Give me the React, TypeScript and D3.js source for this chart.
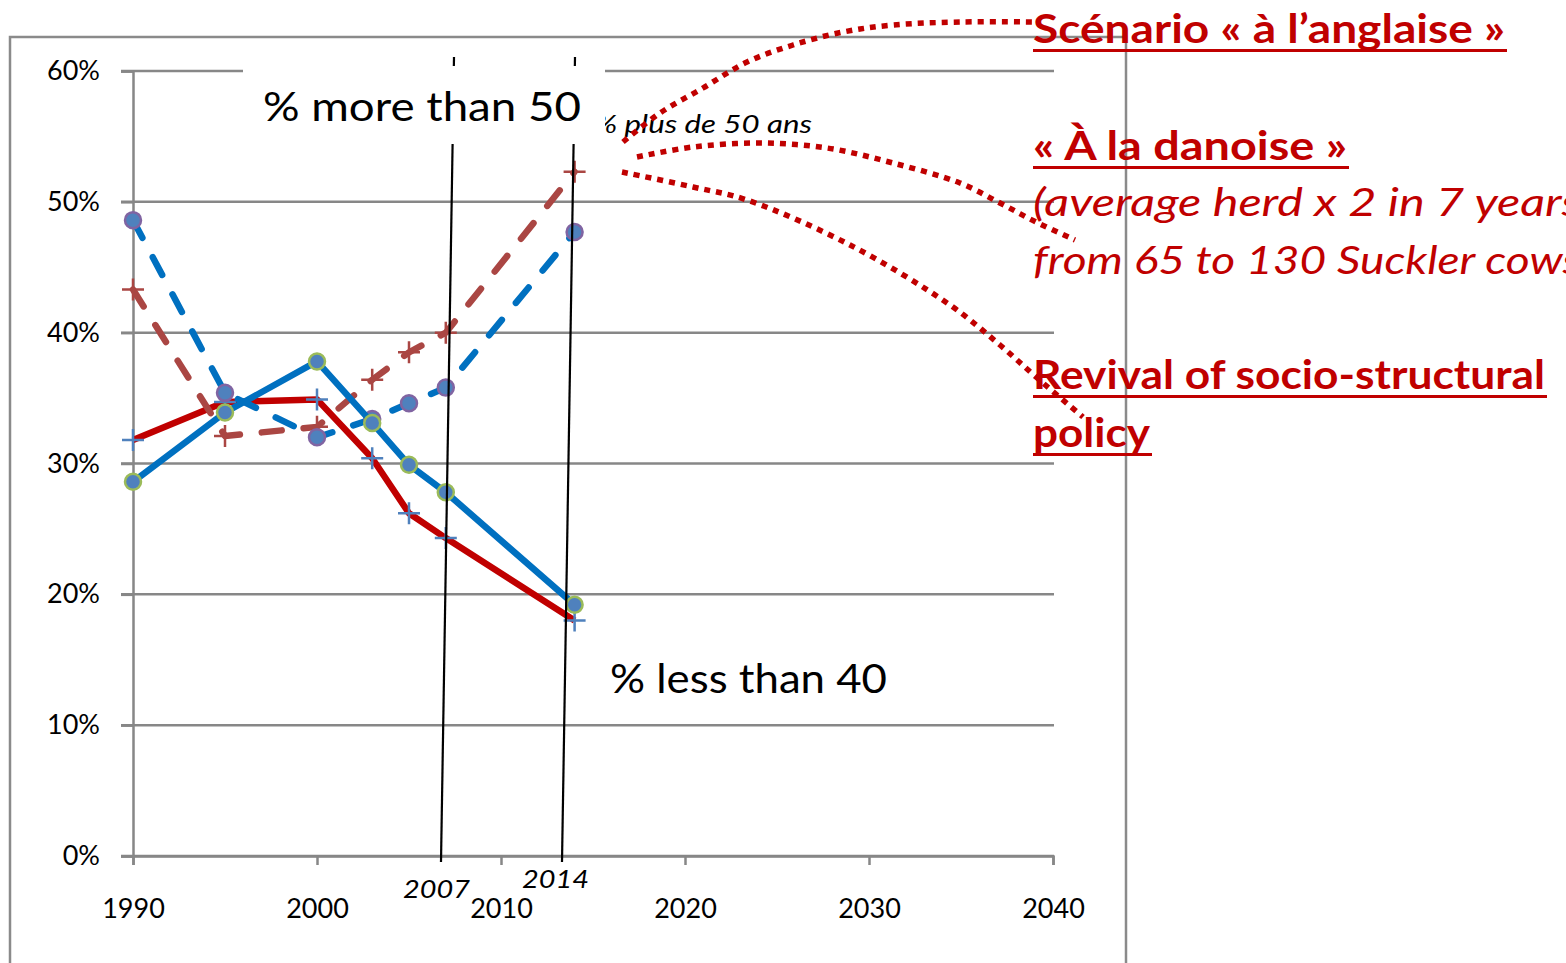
import React, { useEffect, useRef } from 'react';
import * as d3 from 'd3';

// Survey years
const years = [1990, 1995, 2000, 2003, 2005, 2007, 2014];

// % farmers less than 40 (two sources)
const lessThan40Blue = [28.6, 33.9, 37.8, 33.1, 29.9, 27.8, 19.2];
const lessThan40Red = [31.8, 34.7, 34.9, 30.4, 26.2, 24.3, 18.0];

// % farmers more than 50 (two sources)
const moreThan50Blue = [48.6, 35.4, 32.0, 33.4, 34.6, 35.8, 47.7];
const moreThan50Brown = [43.3, 32.1, 32.8, 36.4, 38.5, 40.0, 52.3];

const yTicks = [0, 10, 20, 30, 40, 50, 60];
const xTicks = [1990, 2000, 2010, 2020, 2030, 2040];
const markerLabels = ['2007', '2014'];

const FONT = 'Lato, "Open Sans", sans-serif';

const App = () => {
  const svgRef = useRef<SVGSVGElement>(null);

  useEffect(() => {
    const width = 1566;
    const height = 963;
    const svg = d3.select(svgRef.current);
    svg.selectAll('*').remove();
    svg.attr('width', width).attr('height', height);

    const x = d3.scaleLinear().domain([1990, 2040]).range([133, 1053]);
    const y = d3.scaleLinear().domain([0, 60]).range([856, 71]);

    // outer chart frame
    svg
      .append('rect')
      .attr('x', 10)
      .attr('y', 37)
      .attr('width', 1116)
      .attr('height', 960)
      .attr('fill', 'none')
      .attr('stroke', '#8a8a8a')
      .attr('stroke-width', 2.5);

    // horizontal gridlines
    svg
      .append('g')
      .selectAll('line')
      .data(yTicks)
      .enter()
      .append('line')
      .attr('x1', 121)
      .attr('x2', 1054)
      .attr('y1', d => y(d))
      .attr('y2', d => y(d))
      .attr('stroke', '#878787')
      .attr('stroke-width', 2.5);

    // y axis
    const yAxis = svg
      .append('g')
      .attr('transform', `translate(${x(1990)},0)`)
      .call(
        d3
          .axisLeft(y)
          .tickValues(yTicks)
          .tickSize(12)
          .tickPadding(21)
          .tickFormat(d => `${d}%`)
      );
    yAxis.select('.domain').attr('stroke', '#878787').attr('stroke-width', 2.5);
    yAxis.selectAll('.tick line').attr('stroke', '#878787').attr('stroke-width', 2.5);
    yAxis
      .selectAll('.tick text')
      .attr('font-family', FONT)
      .attr('font-size', 27)
      .attr('fill', '#000');

    // x axis
    const xAxis = svg
      .append('g')
      .attr('transform', `translate(0,${y(0)})`)
      .call(d3.axisBottom(x).tickValues(xTicks).tickSize(9).tickFormat(d3.format('d')));
    xAxis.select('.domain').attr('stroke', '#878787').attr('stroke-width', 2.5);
    xAxis.selectAll('.tick line').attr('stroke', '#878787').attr('stroke-width', 2.5);
    xAxis
      .selectAll('.tick text')
      .attr('y', 62)
      .attr('dy', 0)
      .attr('font-family', FONT)
      .attr('font-size', 27)
      .attr('fill', '#000');

    const line = d3
      .line<number>()
      .x((_, i) => x(years[i]))
      .y(d => y(d));

    const drawLine = (vals, color, dash) => {
      svg
        .append('path')
        .datum(vals)
        .attr('d', line)
        .attr('fill', 'none')
        .attr('stroke', color)
        .attr('stroke-width', 6.5)
        .attr('stroke-linejoin', 'round')
        .attr('stroke-linecap', dash ? 'round' : 'butt')
        .attr('stroke-dasharray', dash || null);
    };

    const drawCircles = (vals, stroke) => {
      svg
        .append('g')
        .selectAll('circle')
        .data(vals)
        .enter()
        .append('circle')
        .attr('cx', (_, i) => x(years[i]))
        .attr('cy', d => y(d))
        .attr('r', 8)
        .attr('fill', '#4f81bd')
        .attr('stroke', stroke)
        .attr('stroke-width', 2.5);
    };

    const drawPlus = (vals, stroke) => {
      svg
        .append('g')
        .selectAll('path')
        .data(vals)
        .enter()
        .append('path')
        .attr('d', 'M-11,0H11M0,-11V11')
        .attr('transform', (d, i) => `translate(${x(years[i])},${y(d)})`)
        .attr('stroke', stroke)
        .attr('stroke-width', 2.5)
        .attr('fill', 'none');
    };

    drawLine(lessThan40Red, '#c00000', null);
    drawPlus(lessThan40Red, '#4f81bd');
    drawLine(moreThan50Brown, '#aa4643', '20,22');
    drawPlus(moreThan50Brown, '#aa4643');
    drawLine(moreThan50Blue, '#0070c0', '20,22');
    drawCircles(moreThan50Blue, '#8064a2');
    drawLine(lessThan40Blue, '#0070c0', null);
    drawCircles(lessThan40Blue, '#9bbb59');

    // slanted hand-drawn year markers (annotation, not data)
    const markerBottoms = [441, 562];
    svg
      .append('g')
      .selectAll('line')
      .data(markerBottoms)
      .enter()
      .append('line')
      .attr('x1', d => d + 13)
      .attr('y1', 57)
      .attr('x2', d => d)
      .attr('y2', 862)
      .attr('stroke', '#000')
      .attr('stroke-width', 2.2);

    const markerLabelPos = [
      { x: 403, y: 898 },
      { x: 522, y: 888 }
    ];
    markerLabels.forEach((t, i) => {
      svg
        .append('text')
        .attr('x', markerLabelPos[i].x)
        .attr('y', markerLabelPos[i].y)
        .attr('font-family', FONT)
        .attr('font-style', 'italic')
        .attr('font-size', 25)
        .attr('textLength', 67)
        .attr('lengthAdjust', 'spacingAndGlyphs')
        .text(t);
    });

    // French label partly under the white box
    svg
      .append('text')
      .attr('x', 594)
      .attr('y', 133)
      .attr('font-family', FONT)
      .attr('font-style', 'italic')
      .attr('font-size', 25)
      .attr('textLength', 218)
      .attr('lengthAdjust', 'spacingAndGlyphs')
      .text('% plus de 50 ans');

    // white box with "% more than 50"
    svg
      .append('rect')
      .attr('x', 243)
      .attr('y', 66)
      .attr('width', 362)
      .attr('height', 78)
      .attr('fill', '#fff');
    svg
      .append('text')
      .attr('x', 263)
      .attr('y', 121)
      .attr('font-family', FONT)
      .attr('font-size', 41)
      .attr('textLength', 318)
      .attr('lengthAdjust', 'spacingAndGlyphs')
      .text('%  more than 50');

    svg
      .append('text')
      .attr('x', 610)
      .attr('y', 693)
      .attr('font-family', FONT)
      .attr('font-size', 40)
      .attr('textLength', 277)
      .attr('lengthAdjust', 'spacingAndGlyphs')
      .text('% less than 40');

    // dotted scenario curves
    const curves = [
      [[623, 142], [660, 113], [703, 88], [747, 62], [793, 45], [843, 32], [893, 25], [960, 22], [1035, 22]],
      [[637, 157], [693, 147], [760, 143], [827, 148], [893, 163], [960, 183], [1000, 203], [1036, 222], [1075, 240]],
      [[622, 172], [693, 187], [747, 200], [850, 245], [950, 305], [1000, 345], [1036, 377], [1083, 417]]
    ];
    const curveLine = d3.line().curve(d3.curveCatmullRom);
    svg
      .append('g')
      .selectAll('path')
      .data(curves)
      .enter()
      .append('path')
      .attr('d', d => curveLine(d as [number, number][]))
      .attr('fill', 'none')
      .attr('stroke', '#c00000')
      .attr('stroke-width', 5.5)
      .attr('stroke-dasharray', '6,6');

    // scenario labels
    const labels = [
      { text: 'Scénario « à l’anglaise »', y: 43, bold: true, len: 472 },
      { text: '« À la danoise »', y: 160, bold: true, len: 314 },
      { text: '(average herd x 2 in 7 years', y: 216, bold: false, len: 548 },
      { text: 'from 65 to 130 Suckler cows', y: 274, bold: false, len: 548 },
      { text: 'Revival of socio-structural', y: 389, bold: true, len: 512 },
      { text: 'policy', y: 447, bold: true, len: 117 }
    ];
    const lg = svg.append('g');
    labels.forEach(l => {
      lg.append('text')
        .attr('x', 1033)
        .attr('y', l.y)
        .attr('font-family', FONT)
        .attr('font-size', l.bold ? 40 : 39)
        .attr('font-weight', l.bold ? 'bold' : 'normal')
        .attr('font-style', l.bold ? 'normal' : 'italic')
        .attr('fill', '#c00000')
        .attr('textLength', l.len)
        .attr('lengthAdjust', 'spacingAndGlyphs')
        .text(l.text);
      if (l.bold) {
        lg.append('line')
          .attr('x1', 1033)
          .attr('x2', 1033 + l.len + 2)
          .attr('y1', l.y + 7.5)
          .attr('y2', l.y + 7.5)
          .attr('stroke', '#c00000')
          .attr('stroke-width', 3);
      }
    });
  }, []);

  return (
    <div>
      <svg ref={svgRef} style={{ position: 'absolute', left: 0, top: 0, display: 'block' }}></svg>
    </div>
  );
};

export default App;
